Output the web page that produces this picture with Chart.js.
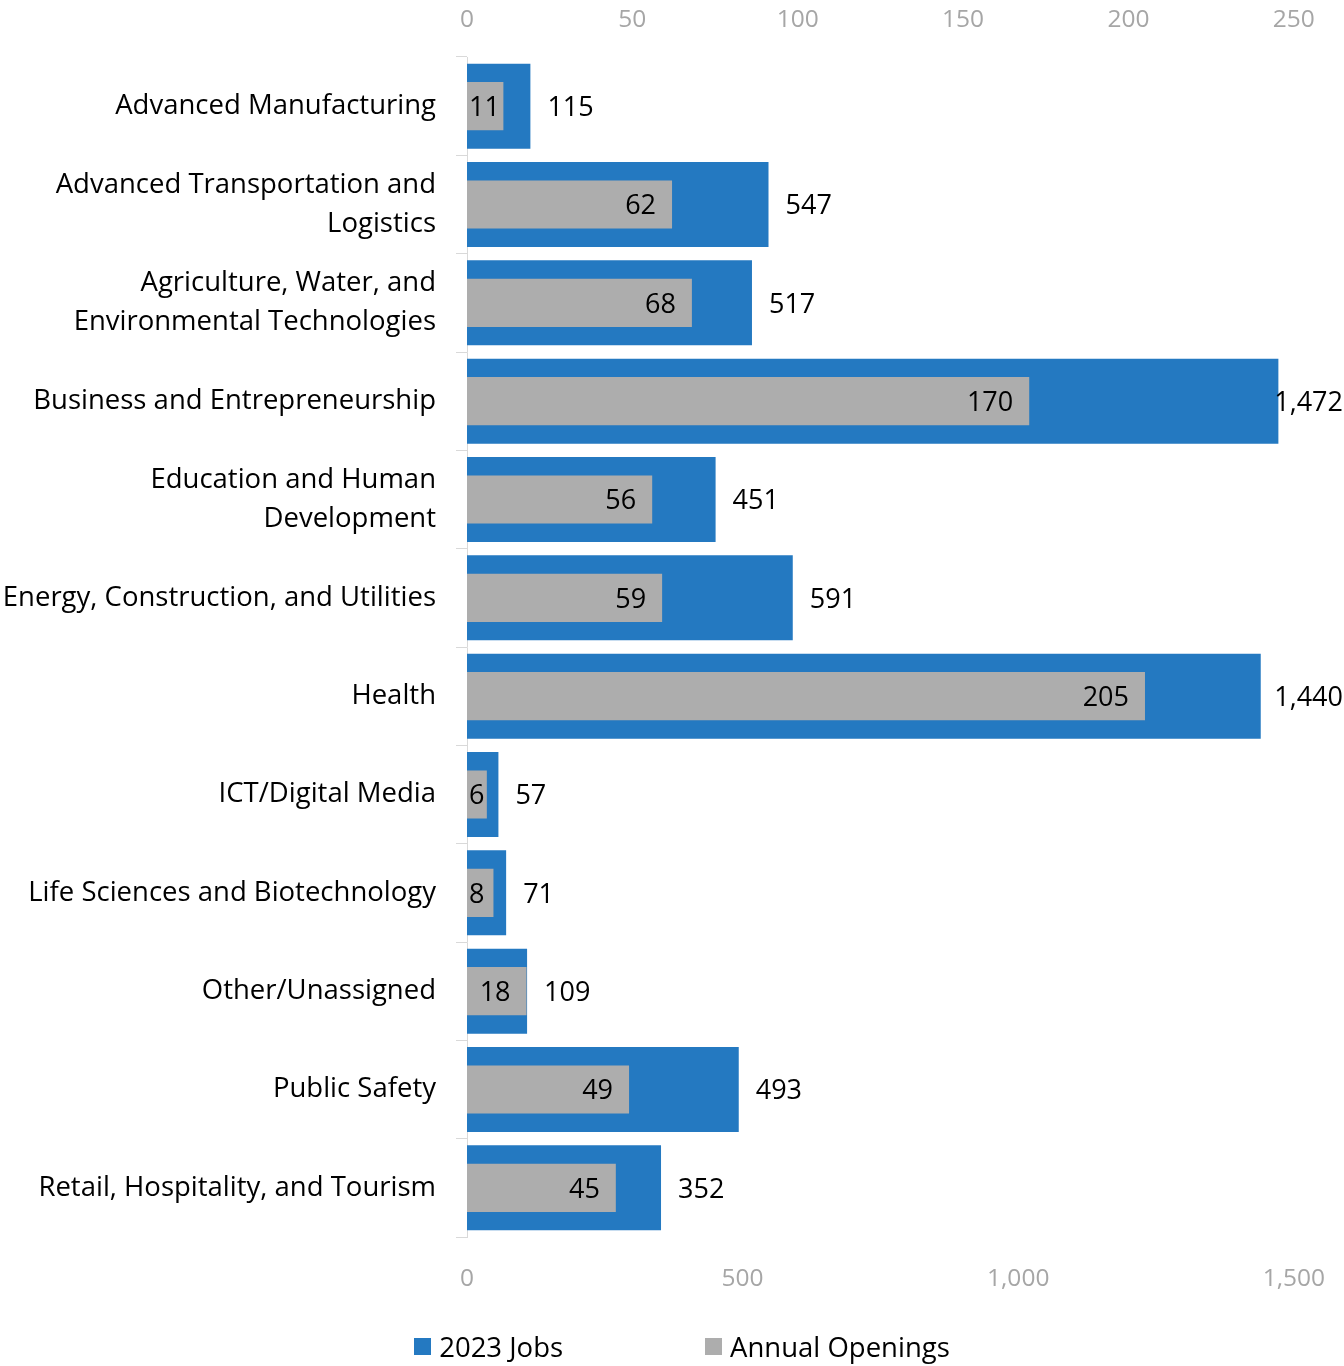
<!DOCTYPE html>
<html lang="en">
<head>
    <meta charset="UTF-8">
    <title>2023 Jobs and Annual Openings by Sector</title>
    <script src="https://cdn.jsdelivr.net/npm/chart.js"></script>
    <style>
        body { margin: 0; background: #fff; font-family: "Open Sans", sans-serif; }
        #wrap { position: relative; width: 1344px; height: 1366px; }
        #legend {
            position: absolute; left: 0; top: 1328px; width: 1344px; box-sizing: border-box;
            padding-left: 20px;
            display: flex; justify-content: center; gap: 142px;
            font-size: 27.5px; color: #000;
        }
        #legend span.item { display: flex; align-items: center; }
        #legend span.box { display: inline-block; width: 17px; height: 17px; margin-right: 8px; }
    </style>
</head>
<body>
<div id="wrap">
    <canvas id="chart" width="1344" height="1366"></canvas>
    <div id="legend">
        <span class="item"><span class="box" style="background:#2479c1"></span>2023 Jobs</span>
        <span class="item"><span class="box" style="background:#adadad"></span>Annual Openings</span>
    </div>
</div>

<script>
    // categorias (las de dos lineas van como arreglo)
    const sectors = [
        'Advanced Manufacturing',
        ['Advanced Transportation and', 'Logistics'],
        ['Agriculture, Water, and', 'Environmental Technologies'],
        'Business and Entrepreneurship',
        ['Education and Human', 'Development'],
        'Energy, Construction, and Utilities',
        'Health',
        'ICT/Digital Media',
        'Life Sciences and Biotechnology',
        'Other/Unassigned',
        'Public Safety',
        'Retail, Hospitality, and Tourism'
    ];
    const jobs2023 = [115, 547, 517, 1472, 451, 591, 1440, 57, 71, 109, 493, 352];
    const annualOpenings = [11, 62, 68, 170, 56, 59, 205, 6, 8, 18, 49, 45];

    const jobsTicks = [0, 500, 1000, 1500];
    const openingsTicks = [0, 50, 100, 150, 200, 250];

    const BLUE = '#2479c1';
    const GREY = '#adadad';
    const FONT = '"Open Sans", sans-serif';

    // etiquetas de valores
    const valueLabels = {
        id: 'valueLabels',
        afterDatasetsDraw(chart) {
            const ctx = chart.ctx;
            ctx.save();
            ctx.font = '27px ' + FONT;
            ctx.fillStyle = '#000';
            ctx.textBaseline = 'middle';
            chart.data.datasets.forEach((ds, i) => {
                const meta = chart.getDatasetMeta(i);
                meta.data.forEach((bar, j) => {
                    const txt = ds.data[j].toLocaleString('en-US');
                    const w = ctx.measureText(txt).width;
                    let x;
                    if (ds.label === '2023 Jobs') {
                        x = Math.min(bar.x + 17, chart.width - w - 1);
                    } else {
                        x = Math.max(bar.x - 16 - w, bar.base + 2);
                    }
                    ctx.textAlign = 'left';
                    ctx.fillText(txt, x, bar.y + 2);
                });
            });
            ctx.restore();
        }
    };

    const ctx = document.getElementById('chart').getContext('2d');
    new Chart(ctx, {
        type: 'bar',
        data: {
            labels: sectors,
            datasets: [
                {
                    label: 'Annual Openings',
                    data: annualOpenings,
                    xAxisID: 'x2',
                    backgroundColor: GREY,
                    grouped: false,
                    barPercentage: 0.49,
                    categoryPercentage: 1
                },
                {
                    label: '2023 Jobs',
                    data: jobs2023,
                    xAxisID: 'x',
                    backgroundColor: BLUE,
                    grouped: false,
                    barPercentage: 0.865,
                    categoryPercentage: 1
                }
            ]
        },
        options: {
            indexAxis: 'y',
            responsive: false,
            animation: false,
            layout: { padding: { left: 0, right: 49, top: 0, bottom: 0 } },
            plugins: {
                legend: { display: false },
                tooltip: { enabled: false }
            },
            scales: {
                y: {
                    afterFit: s => { s.width = 467; },
                    grid: {
                        offset: true,
                        drawOnChartArea: false,
                        tickLength: 11,
                        color: '#d9d9d9'
                    },
                    border: { color: '#d9d9d9' },
                    ticks: {
                        padding: 20,
                        color: '#000',
                        font: { family: FONT, size: 27.5, lineHeight: 1.42 }
                    }
                },
                x: {
                    position: 'bottom',
                    min: 0,
                    max: 1500,
                    afterFit: s => { s.height = 129; },
                    afterBuildTicks: s => { s.ticks = jobsTicks.map(v => ({ value: v })); },
                    grid: { display: false },
                    border: { display: false },
                    ticks: {
                        padding: 19,
                        color: '#a6a6a6',
                        font: { family: FONT, size: 24.5 },
                        callback: v => v.toLocaleString('en-US')
                    }
                },
                x2: {
                    position: 'top',
                    min: 0,
                    max: 250,
                    afterFit: s => { s.height = 57; },
                    afterBuildTicks: s => { s.ticks = openingsTicks.map(v => ({ value: v })); },
                    grid: { display: false },
                    border: { display: false },
                    ticks: {
                        padding: 14,
                        color: '#a6a6a6',
                        font: { family: FONT, size: 24.5 }
                    }
                }
            }
        },
        plugins: [valueLabels]
    });
</script>
</body>
</html>
